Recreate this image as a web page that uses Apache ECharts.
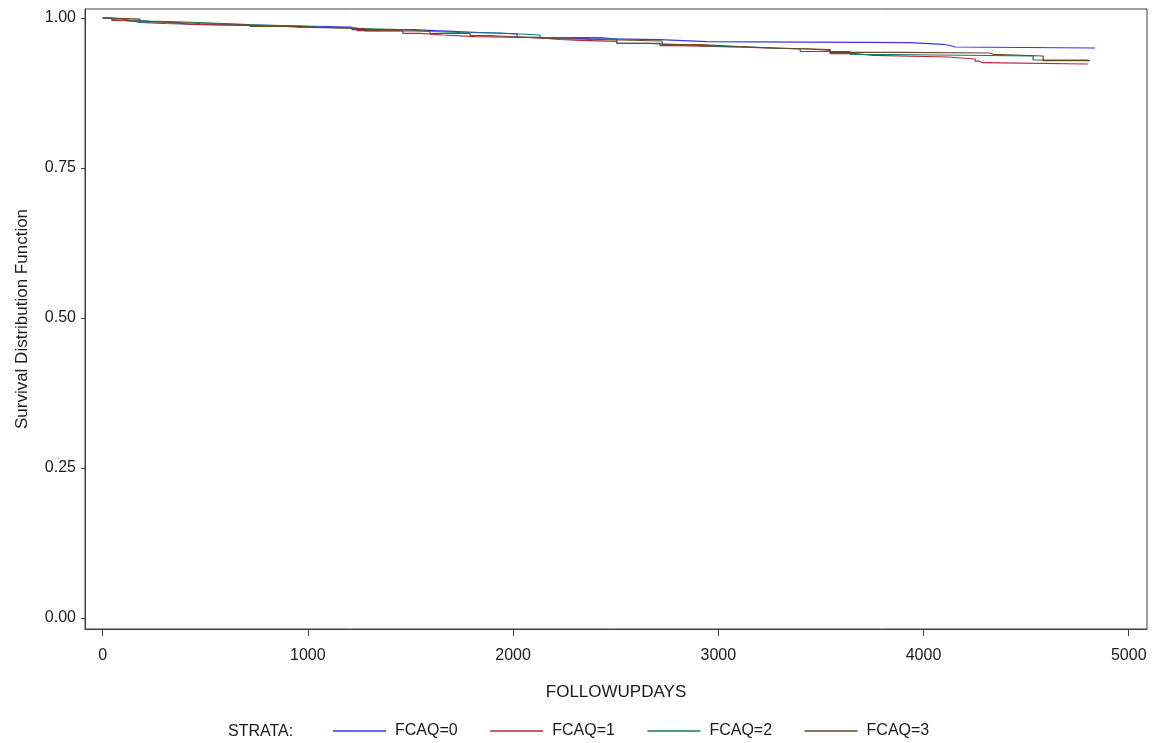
<!DOCTYPE html>
<html>
<head>
<meta charset="utf-8">
<script src="https://cdn.jsdelivr.net/npm/echarts@6/dist/echarts.min.js"></script>
<style>
html,body{margin:0;padding:0;background:#fff;}
#chart{width:1153px;height:743px;}
</style>
</head>
<body>
<div id="chart"></div>
<script>
// ---- data (days, survival) ----
const strataNames = ['FCAQ=0', 'FCAQ=1', 'FCAQ=2', 'FCAQ=3'];
const xTicks = [0, 1000, 2000, 3000, 4000, 5000];
const yTicks = [0, 0.25, 0.5, 0.75, 1.0];

const fcaq0 = [[0,1.000],[35,0.9975],[50,0.9945],[158,0.9925],[182,0.9908],[304,0.9892],[474,0.9883],[694,0.9867],[962,0.985],[1215,0.9805],[1512,0.9788],[1620,0.9778],[1702,0.9758],[1839,0.9733],[2019,0.9678],[2117,0.9655],[2375,0.9638],[2716,0.9605],[2945,0.9588],[3935,0.9562],[4095,0.9542],[4129,0.9517],[4154,0.95],[4836,0.95]];
const fcaq1 = [[0,1.000],[45,0.9958],[109,0.9942],[221,0.9922],[352,0.9895],[425,0.9878],[669,0.9867],[864,0.9845],[962,0.9833],[1239,0.9788],[1463,0.9745],[1546,0.9717],[1658,0.9688],[1814,0.9672],[2131,0.9642],[2228,0.9628],[2326,0.9612],[2506,0.9578],[2716,0.9538],[2813,0.9528],[2960,0.9517],[3106,0.95],[3228,0.9483],[3447,0.9462],[3545,0.9405],[3667,0.9378],[3754,0.935],[4120,0.9317],[4252,0.928],[4270,0.9255],[4290,0.9233],[4802,0.9233]];
const fcaq2 = [[0,1.000],[45,0.9967],[133,0.995],[231,0.9925],[474,0.9892],[694,0.9867],[962,0.9842],[1108,0.9825],[1254,0.9808],[1449,0.9775],[1595,0.9758],[1741,0.975],[1936,0.9717],[2131,0.9675],[2423,0.965],[2506,0.9578],[2643,0.9558],[2813,0.9528],[3008,0.9508],[3203,0.9483],[3399,0.9442],[3642,0.9392],[3837,0.9367],[4534,0.93],[4802,0.93]];
const fcaq3 = [[0,1.000],[36,0.998],[182,0.9933],[304,0.9908],[474,0.9892],[718,0.9858],[962,0.9842],[1059,0.9825],[1278,0.9783],[1595,0.9742],[1790,0.9708],[1888,0.9683],[2033,0.9658],[2155,0.9642],[2423,0.9617],[2726,0.9555],[2911,0.9525],[3106,0.95],[3277,0.9475],[3545,0.9428],[3886,0.9417],[4324,0.9395],[4339,0.9367],[4583,0.9288],[4811,0.9288]];

const seriesData = [fcaq0, fcaq1, fcaq2, fcaq3];
const colors = ['#3434F2', '#B22A38', '#12786B', '#6B4A20'];

const chart = echarts.init(document.getElementById('chart'), null, {renderer: 'canvas'});
const FONT = 'Liberation Sans, Arial, sans-serif';

const option = {
  animation: false,
  backgroundColor: '#ffffff',
  grid: {
    left: 85, right: 6, top: 9, bottom: 114,
    containLabel: false,
    outerBoundsMode: 'none',
    show: true, borderColor: '#404040', borderWidth: 1, backgroundColor: 'transparent'
  },
  xAxis: {
    type: 'value',
    min: -86, max: 5089,
    name: 'FOLLOWUPDAYS',
    nameLocation: 'middle',
    nameGap: 55,
    nameTextStyle: {fontFamily: FONT, fontSize: 17, color: '#1a1a1a'},
    axisLine: {show: true, onZero: false, lineStyle: {color: '#404040', width: 1}},
    axisTick: {show: true, length: 7, lineStyle: {color: '#404040'}, customValues: xTicks},
    axisLabel: {fontFamily: FONT, fontSize: 16, color: '#1a1a1a', margin: 19, customValues: xTicks,
      formatter: v => String(v)},
    splitLine: {show: false}
  },
  yAxis: {
    type: 'value',
    min: -0.01833, max: 1.015,
    name: 'Survival Distribution Function',
    nameLocation: 'middle',
    nameGap: 54,
    nameTextStyle: {fontFamily: FONT, fontSize: 17, color: '#1a1a1a'},
    axisLine: {show: true, onZero: false, lineStyle: {color: '#404040', width: 1}},
    axisTick: {show: true, length: 4, lineStyle: {color: '#404040'}, customValues: yTicks},
    axisLabel: {fontFamily: FONT, fontSize: 16, color: '#1a1a1a', margin: 9, customValues: yTicks,
      formatter: v => v.toFixed(2)},
    splitLine: {show: false}
  },
  legend: {
    left: 333, top: 723, padding: 0,
    icon: 'rect',
    itemWidth: 53, itemHeight: 1.3, itemGap: 32.5,
    textStyle: {fontFamily: FONT, fontSize: 16, color: '#1a1a1a', padding: [0, 0, 0, 4]},
    data: strataNames
  },
  graphic: [{
    type: 'text', left: 228, top: 724,
    style: {text: 'STRATA:', font: '16px ' + FONT, fill: '#1a1a1a'}
  }],
  series: strataNames.map((n, i) => ({
    name: n,
    type: 'line',
    step: 'end',
    data: seriesData[i],
    symbol: 'none',
    showSymbol: false,
    color: colors[i],
    lineStyle: {width: 1.2, color: colors[i]},
    emphasis: {disabled: true}
  }))
};
chart.setOption(option);
</script>
</body>
</html>
